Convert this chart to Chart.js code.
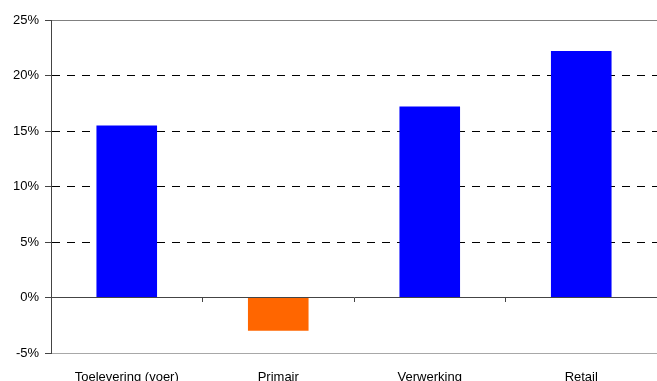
<!DOCTYPE html>
<html>
<head>
<meta charset="utf-8">
<script src="https://cdn.jsdelivr.net/npm/chart.js@4"></script>
<style>
  html, body { margin: 0; padding: 0; background: #fff; }
  #wrap { width: 657px; height: 381px; }
</style>
</head>
<body>
<div id="wrap"><canvas id="chart"></canvas></div>
<script>
const categories = ['Toelevering (voer)', 'Primair', 'Verwerking', 'Retail'];
const growth = [15.5, -3.0, 17.2, 22.2];
const yTicks = { min: -5, max: 25, step: 5 };

const POS_COLOR = '#0000ff';
const NEG_COLOR = '#ff6600';
const AXIS_COLOR = '#444';

Chart.defaults.font.family = '"Liberation Sans", Arial, sans-serif';
Chart.defaults.font.size = 13;
Chart.defaults.color = '#000';

const ctx = document.getElementById('chart').getContext('2d');
new Chart(ctx, {
  type: 'bar',
  data: {
    labels: categories,
    datasets: [{
      data: growth,
      backgroundColor: c => (c.raw < 0 ? NEG_COLOR : POS_COLOR),
      borderWidth: 0,
      categoryPercentage: 1,
      barPercentage: 0.4,
    }]
  },
  options: {
    responsive: true,
    maintainAspectRatio: false,
    animation: false,
    layout: { padding: { top: 20, right: 0, left: 0, bottom: 0 } },
    plugins: { legend: { display: false }, tooltip: { enabled: false } },
    scales: {
      // zero line with category boundary ticks
      x: {
        type: 'category',
        position: { y: 0 },
        offset: true,
        ticks: { display: false },
        grid: { offset: true, drawOnChartArea: false, tickLength: 4, tickColor: AXIS_COLOR },
        border: { color: AXIS_COLOR, width: 1 },
      },
      // category labels along the bottom
      x2: {
        type: 'category',
        position: 'bottom',
        offset: true,
        ticks: { padding: 9, maxRotation: 0, autoSkip: false },
        grid: { display: false },
        border: { display: false },
        afterFit: s => { s.height = 28; },
      },
      y: {
        min: yTicks.min,
        max: yTicks.max,
        ticks: { stepSize: yTicks.step, padding: 6, callback: v => `${v}%` },
        grid: {
          color: c => (c.tick.value === 0 || c.tick.value === yTicks.min || c.tick.value === yTicks.max) ? 'rgba(0,0,0,0)' : '#000',
          tickColor: AXIS_COLOR,
          tickLength: 6,
        },
        border: { color: AXIS_COLOR, width: 1, dash: [8, 7] },
        afterFit: s => { s.width = 51; },
      },
      // solid frame lines at the top and bottom of the plot
      yFrame: {
        position: 'right',
        min: yTicks.min,
        max: yTicks.max,
        ticks: { display: false, stepSize: yTicks.max - yTicks.min },
        grid: {
          drawTicks: false,
          color: c => (c.tick.value === yTicks.max ? '#808080' : '#a8a8a8'),
        },
        border: { display: false },
        afterFit: s => { s.width = 0; },
      },
    }
  }
});
</script>
</body>
</html>
